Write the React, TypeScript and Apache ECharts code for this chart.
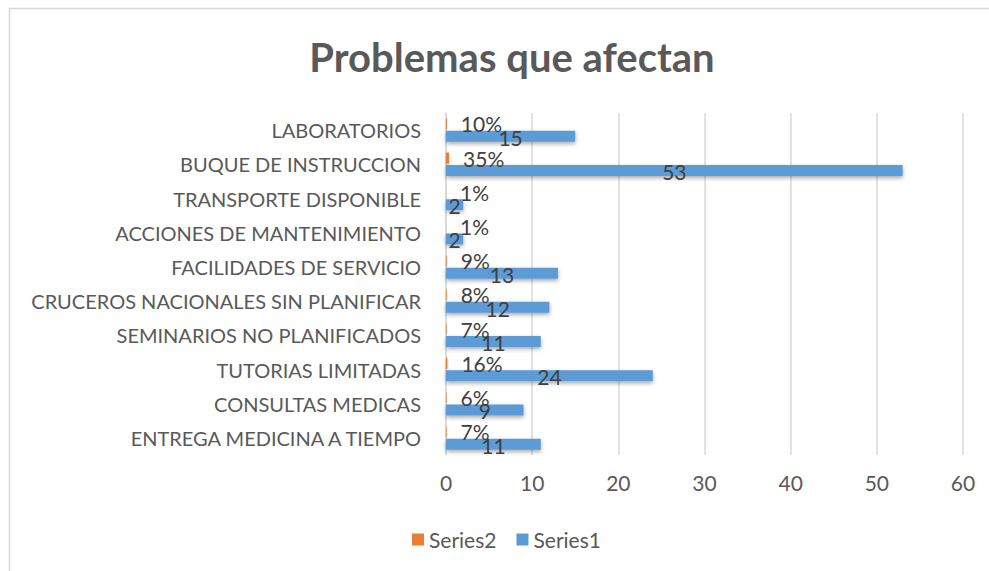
import React, { useEffect, useRef } from "react";
import * as echarts from "echarts";

const categories = [
  "LABORATORIOS",
  "BUQUE DE INSTRUCCION",
  "TRANSPORTE DISPONIBLE",
  "ACCIONES DE MANTENIMIENTO",
  "FACILIDADES DE SERVICIO",
  "CRUCEROS NACIONALES SIN PLANIFICAR",
  "SEMINARIOS NO PLANIFICADOS",
  "TUTORIAS LIMITADAS",
  "CONSULTAS MEDICAS",
  "ENTREGA MEDICINA A TIEMPO",
];
const series1 = [15, 53, 2, 2, 13, 12, 11, 24, 9, 11];
const series2 = [0.1, 0.35, 0.01, 0.01, 0.09, 0.08, 0.07, 0.16, 0.06, 0.07];
const xTicks = { min: 0, max: 60, interval: 10 };

const FONT = "Lato, 'Open Sans', sans-serif";

export default function App() {
  const ref = useRef<HTMLDivElement>(null);
  useEffect(() => {
    if (!ref.current) return;
    const chart = echarts.init(ref.current, undefined, { renderer: "svg" });
    chart.setOption({
      animation: false,
      textStyle: { fontFamily: FONT },
      graphic: [
        {
          type: "rect",
          shape: { x: 9.5, y: 8.5, width: 1200, height: 1000 },
          style: { fill: "none", stroke: "#d9d9d9", lineWidth: 1.5 },
          silent: true,
        },
      ],
      title: {
        text: "Problemas que afectan",
        left: 507,
        textAlign: "center",
        top: 32,
        textStyle: { fontFamily: FONT, fontSize: 40, fontWeight: "bold", color: "#595959" },
      },
      legend: {
        data: ["Series2", "Series1"],
        top: 524,
        left: 407,
        icon: "rect",
        itemWidth: 12,
        itemHeight: 12,
        itemGap: 20,
        textStyle: { fontFamily: FONT, fontSize: 21, color: "#595959" },
      },
      grid: { left: 446, right: 26, top: 113, bottom: 116, containLabel: false },
      xAxis: {
        type: "value",
        min: xTicks.min,
        max: xTicks.max,
        interval: xTicks.interval,
        axisLine: { show: false },
        axisTick: { show: false },
        axisLabel: { fontFamily: FONT, fontSize: 21, color: "#595959", margin: 17 },
        splitLine: { lineStyle: { color: "#d9d9d9", width: 1.5 } },
      },
      yAxis: {
        type: "category",
        data: categories,
        inverse: true,
        axisLine: { show: true, lineStyle: { color: "#d9d9d9", width: 1.5 } },
        axisTick: { show: false },
        axisLabel: { fontFamily: FONT, fontSize: 20, color: "#595959", margin: 25 },
      },
      series: [
        {
          name: "Series2",
          type: "bar",
          data: series2,
          barWidth: 11,
          barGap: "14%",
          itemStyle: {
            color: "#ED7D31",
            shadowBlur: 3,
            shadowOffsetY: 2,
            shadowColor: "rgba(0,0,0,0.25)",
          },
          label: {
            show: true,
            position: "right",
            distance: 14,
            fontFamily: FONT,
            fontSize: 21,
            color: "#404040",
            formatter: (p: any) => Math.round(p.value * 100) + "%",
          },
        },
        {
          name: "Series1",
          type: "bar",
          data: series1,
          barWidth: 11,
          barGap: "14%",
          itemStyle: {
            color: "#5B9BD5",
            shadowBlur: 4,
            shadowOffsetY: 2,
            shadowColor: "rgba(0,0,0,0.35)",
          },
          label: {
            show: true,
            position: "inside",
            fontFamily: FONT,
            fontSize: 21,
            color: "#404040",
            offset: [0, 1],
          },
        },
      ],
    });
    return () => chart.dispose();
  }, []);
  return (
    <div
      ref={ref}
      style={{ position: "fixed", left: 0, top: 0, width: 989, height: 571, background: "#fff" }}
    />
  );
}
